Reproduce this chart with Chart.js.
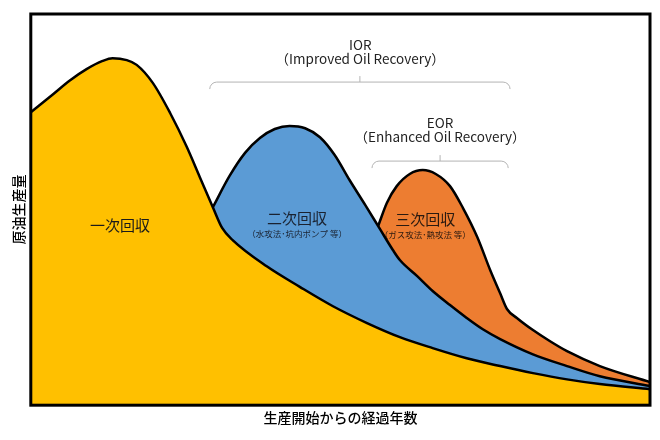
<!DOCTYPE html>
<html lang="ja">
<head>
<meta charset="utf-8">
<script src="https://cdn.jsdelivr.net/npm/chart.js@4/dist/chart.umd.min.js"></script>
<style>
  html, body { margin: 0; padding: 0; background: #fff; }
  #wrap { width: 660px; height: 440px; }
</style>
</head>
<body>
<div id="wrap"><canvas id="oilChart" width="660" height="440"></canvas></div>
<script>
// years since start (0-100) and production (0-100)
const primaryX = [0, 3.6, 6.3, 9.0, 11.6, 13.2, 15.5, 17.1, 19.7, 22.5, 25.2, 27.3, 29.4, 30.9, 32.6, 38.1, 43.5, 48.8, 54.3, 59.6, 64.9, 70.4, 75.8, 81.1, 86.6, 91.9, 100];
const primaryY = [74.9, 79.5, 83.0, 85.9, 88.0, 88.7, 88.2, 87.0, 82.4, 74.7, 66.0, 58.3, 50.6, 45.3, 42.2, 35.5, 30.2, 25.3, 21.0, 17.4, 14.6, 12.0, 10.0, 8.2, 6.6, 5.4, 4.1];

const secondaryX = [29.4, 32.1, 34.6, 37.0, 39.4, 41.8, 44.3, 46.7, 49.1, 51.5, 54.0, 56.4, 58.5, 59.6, 62.4, 64.9, 67.7, 70.4, 73.0, 75.8, 81.1, 86.6, 91.9, 100];
const secondaryY = [50.6, 58.6, 64.5, 68.3, 70.6, 71.4, 70.8, 68.5, 63.9, 57.5, 51.2, 45.0, 39.6, 37.1, 33.0, 29.2, 25.6, 22.3, 19.4, 16.9, 13.0, 10.0, 7.4, 4.9];

const tertiaryX = [56.1, 57.5, 59.1, 61.2, 63.3, 65.4, 67.7, 69.8, 72.1, 74.2, 75.8, 76.9, 78.5, 81.1, 83.8, 86.6, 91.9, 100];
const tertiaryY = [45.8, 51.7, 56.0, 59.1, 60.1, 59.1, 56.0, 50.4, 43.0, 34.5, 28.6, 24.6, 22.3, 19.2, 16.4, 13.8, 10.0, 5.9];

const seriesNames = ['一次回収', '二次回収', '三次回収'];
const seriesColors = ['#FFC000', '#5B9BD5', '#ED7D31'];

function toPoints(xs, ys) {
  return xs.map((x, i) => ({ x: x, y: ys[i] }));
}

// labels inside the areas and above the peaks (data coordinates)
const areaLabels = [
  { x: 14.4, y: 46.0, text: '一次回収', size: 15, color: '#1a1a1a' },
  { x: 43.0, y: 47.8, text: '二次回収', size: 15, color: '#1a2230' },
  { x: 43.0, y: 43.7, text: '（水攻法･坑内ポンプ 等）', size: 8.5, color: '#1a2230' },
  { x: 63.7, y: 47.6, text: '三次回収', size: 15, color: '#2a1a10' },
  { x: 63.7, y: 43.5, text: '（ガス攻法･熱攻法 等）', size: 8.5, color: '#2a1a10' },
  { x: 53.2, y: 92.1, text: 'IOR', size: 13.5, color: '#222' },
  { x: 53.2, y: 88.5, text: '（Improved Oil Recovery）', size: 13.5, color: '#222' },
  { x: 66.1, y: 72.1, text: 'EOR', size: 13.5, color: '#222' },
  { x: 66.1, y: 68.5, text: '（Enhanced Oil Recovery）', size: 13.5, color: '#222' }
];

const brackets = [
  { from: 28.9, to: 77.4, y: 82.6 },
  { from: 55.1, to: 77.1, y: 62.4 }
];

const overlay = {
  id: 'overlay',
  afterDatasetsDraw(chart) {
    const ctx = chart.ctx;
    const xs = chart.scales.x;
    const ys = chart.scales.y;
    ctx.save();

    // brackets over IOR / EOR
    ctx.strokeStyle = '#b4b4b4';
    ctx.lineWidth = 1;
    brackets.forEach(b => {
      const x1 = xs.getPixelForValue(b.from);
      const x2 = xs.getPixelForValue(b.to);
      const y = ys.getPixelForValue(b.y);
      const xc = (x1 + x2) / 2;
      const r = 7;
      ctx.beginPath();
      ctx.moveTo(x1, y + r);
      ctx.arcTo(x1, y, x1 + r, y, r);
      ctx.lineTo(x2 - r, y);
      ctx.arcTo(x2, y, x2, y + r, r);
      ctx.moveTo(xc, y);
      ctx.lineTo(xc, y - 6);
      ctx.stroke();
    });

    ctx.textAlign = 'center';
    ctx.textBaseline = 'middle';
    areaLabels.forEach(l => {
      ctx.font = l.size + 'px "Noto Sans CJK JP", "Noto Sans", sans-serif';
      ctx.fillStyle = l.color;
      ctx.fillText(l.text, xs.getPixelForValue(l.x), ys.getPixelForValue(l.y));
    });
    ctx.restore();
  },
  afterDraw(chart) {
    const a = chart.chartArea;
    const ctx = chart.ctx;
    ctx.save();
    ctx.strokeStyle = '#000';
    ctx.lineWidth = 3;
    ctx.strokeRect(a.left, a.top, a.right - a.left, a.bottom - a.top);
    ctx.restore();
  }
};

const datasets = [
  toPoints(primaryX, primaryY),
  toPoints(secondaryX, secondaryY),
  toPoints(tertiaryX, tertiaryY)
].map((pts, i) => ({
  label: seriesNames[i],
  data: pts,
  backgroundColor: seriesColors[i],
  borderColor: '#000',
  borderWidth: 2.5,
  fill: 'origin',
  pointRadius: 0,
  cubicInterpolationMode: 'monotone'
}));

const titleFont = { family: '"Noto Sans CJK JP", sans-serif', size: 14, weight: '500' };

new Chart(document.getElementById('oilChart'), {
  type: 'line',
  data: { datasets },
  options: {
    responsive: false,
    animation: false,
    layout: { padding: { left: 6, top: 14, right: 10, bottom: 10 } },
    plugins: {
      legend: { display: false },
      tooltip: { enabled: false }
    },
    scales: {
      x: {
        type: 'linear',
        min: 0,
        max: 100,
        ticks: { display: false },
        grid: { display: false, drawTicks: false },
        border: { display: false },
        title: { display: true, text: '生産開始からの経過年数', color: '#000', font: titleFont, padding: { top: 4, bottom: 4 } }
      },
      y: {
        min: 0,
        max: 100,
        ticks: { display: false },
        grid: { display: false, drawTicks: false },
        border: { display: false },
        title: { display: true, text: '原油生産量', color: '#000', font: titleFont, padding: { top: 4, bottom: 4 } }
      }
    }
  },
  plugins: [overlay]
});
</script>
</body>
</html>
